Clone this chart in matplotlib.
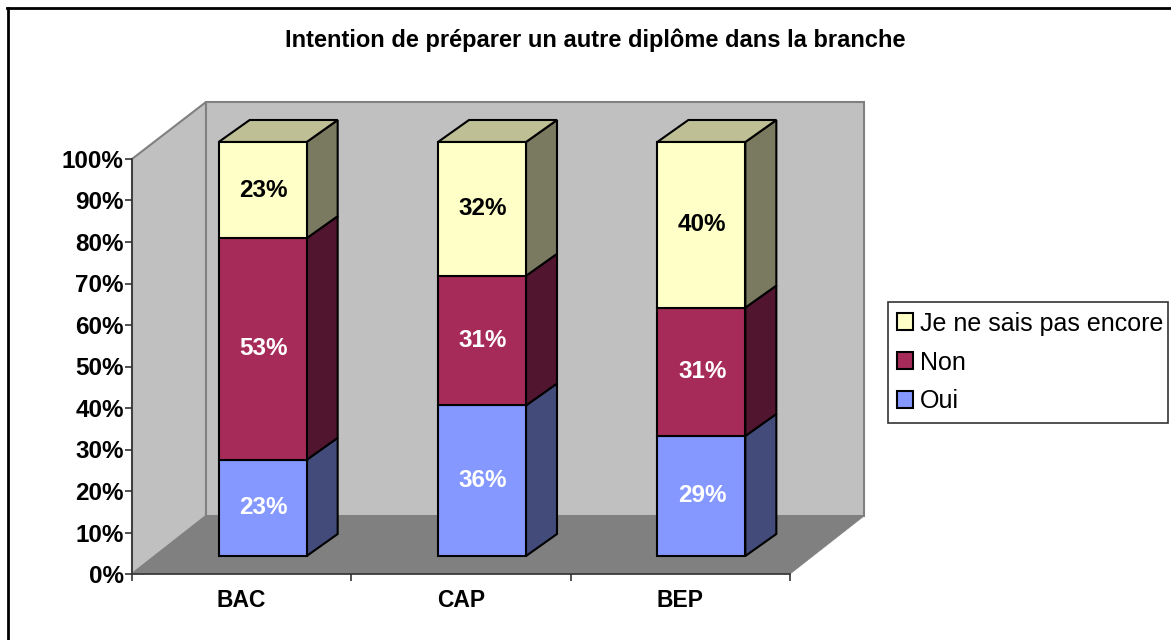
import matplotlib
matplotlib.use("Agg")
import matplotlib.pyplot as plt
from matplotlib.patches import Polygon, Patch, Rectangle
from matplotlib.lines import Line2D

categories = ["BAC", "CAP", "BEP"]
series_names = ["Oui", "Non", "Je ne sais pas encore"]
oui = [23, 36, 29]
non = [53, 31, 31]
nsp = [23, 32, 40]
y_ticks = [0, 10, 20, 30, 40, 50, 60, 70, 80, 90, 100]

front_colors = ["#8598FF", "#A62B58", "#FFFFC8"]
top_colors = ["#6475BF", "#7D2042", "#BFBF96"]
side_colors = ["#424B7A", "#521530", "#7A7A60"]
text_colors = ["white", "white", "black"]

W, H = 1171, 640
plt.rcParams["font.family"] = ["Liberation Sans", "DejaVu Sans"]

fig = plt.figure(figsize=(W / 100, H / 100), dpi=100, facecolor="white")
ax = fig.add_axes([132 / W, 1 - 574 / H, 658 / W, 415 / H])
ax.set_xlim(0, 3)
ax.set_ylim(0, 100)
ax.patch.set_visible(False)

# depth of the fake 3d box, in data units
px_x = 3 / 658
px_y = 100 / 415
wall_dx = 74 * px_x
wall_dy = 58 * px_y
wall_top = 100 + 57 * px_y
bar_dx = 22 * px_x
bar_dy = 18 * px_y
depth_dx = 31 * px_x
depth_dy = 22 * px_y
bar_width = 88 * px_x


def poly(points, color, edge="black", lw=1.5, z=3):
    ax.add_patch(Polygon(points, closed=True, facecolor=color, edgecolor=edge,
                         linewidth=lw, zorder=z, clip_on=False, joinstyle="miter"))


# walls and floor
poly([(0, 0), (wall_dx, wall_dy), (wall_dx, wall_top), (0, 100)], "#C0C0C0", "#808080", 1.5, 1)
poly([(wall_dx, wall_dy), (3 + wall_dx, wall_dy), (3 + wall_dx, wall_top), (wall_dx, wall_top)],
     "#C0C0C0", "#808080", 1.5, 1)
poly([(0, 0), (3, 0), (3 + wall_dx, wall_dy), (wall_dx, wall_dy)], "#808080", "#808080", 0.5, 1.5)

# stacked bars, normalised to 100 %
for i, cat in enumerate(categories):
    vals = [oui[i], non[i], nsp[i]]
    total = float(sum(vals))
    x0 = i + 0.5 + bar_dx - bar_width / 2 - 1 * px_x
    x1 = x0 + bar_width
    bottom = bar_dy
    scale = (414 * px_y) / total
    for k, v in enumerate(vals):
        h = v * scale
        top = bottom + h
        poly([(x1, bottom), (x1 + depth_dx, bottom + depth_dy), (x1 + depth_dx, top + depth_dy), (x1, top)],
             side_colors[k], z=3 + k)
        if k == 2:
            poly([(x0, top), (x1, top), (x1 + depth_dx, top + depth_dy), (x0 + depth_dx, top + depth_dy)],
                 top_colors[k], z=3 + k)
        ax.bar(x0, h, bar_width, bottom=bottom, align="edge", color=front_colors[k], edgecolor="black",
               linewidth=1.5, zorder=3 + k + 0.5, clip_on=False)
        ax.text((x0 + x1) / 2 + 1 * px_x, bottom + h / 2, "%d%%" % v, ha="center", va="center", fontsize=17.5,
                fontweight="bold", color=text_colors[k], zorder=10)
        bottom = top

ax.spines["top"].set_visible(False)
ax.spines["right"].set_visible(False)
for side in ["left", "bottom"]:
    ax.spines[side].set_color("#333333")
    ax.spines[side].set_linewidth(1.2)
    ax.spines[side].set_zorder(2)

ax.set_yticks(y_ticks)
ax.set_yticklabels(["%d%%" % t for t in y_ticks], fontsize=17.5, fontweight="bold")
ax.set_xticks([0, 1, 2, 3])
ax.set_xticklabels([])
ax.tick_params(axis="y", length=5, width=1.2, color="#333333", pad=1)
ax.tick_params(axis="x", length=5, width=1.2, color="#333333")
for i, cat in enumerate(categories):
    ax.text(i + 0.5, -6.3, cat, ha="center", va="center", fontsize=16.5, fontweight="bold")

fig.text(595 / W, 1 - 40 / H, "Intention de préparer un autre diplôme dans la branche", ha="center", va="center",
         fontsize=17, fontweight="bold")

# legend frame drawn on its own so it ends where the reference does
fig.add_artist(Rectangle((888 / W, 1 - 423 / H), 280 / W, 121 / H, transform=fig.transFigure, facecolor="white",
                         edgecolor="#333333", linewidth=1.2))
handles = [Patch(facecolor=front_colors[k], edgecolor="black", linewidth=1.5) for k in [2, 1, 0]]
labels = [series_names[k] for k in [2, 1, 0]]
leg = fig.legend(handles, labels, loc="center left", bbox_to_anchor=(897 / W, 1 - 362.5 / H), fontsize=18,
                 frameon=False, borderpad=0, labelspacing=0.6,
                 handlelength=0.64, handleheight=0.64, handletextpad=0.28, borderaxespad=0)
leg.set_zorder(5)

# outer chart border, only left and top show
fig.add_artist(Line2D([7.5 / W, 7.5 / W], [0, 1 - 8 / H], color="black", linewidth=2))
fig.add_artist(Line2D([6.5 / W, 1], [1 - 8 / H, 1 - 8 / H], color="black", linewidth=2))

fig.savefig("out.png", dpi=100)
